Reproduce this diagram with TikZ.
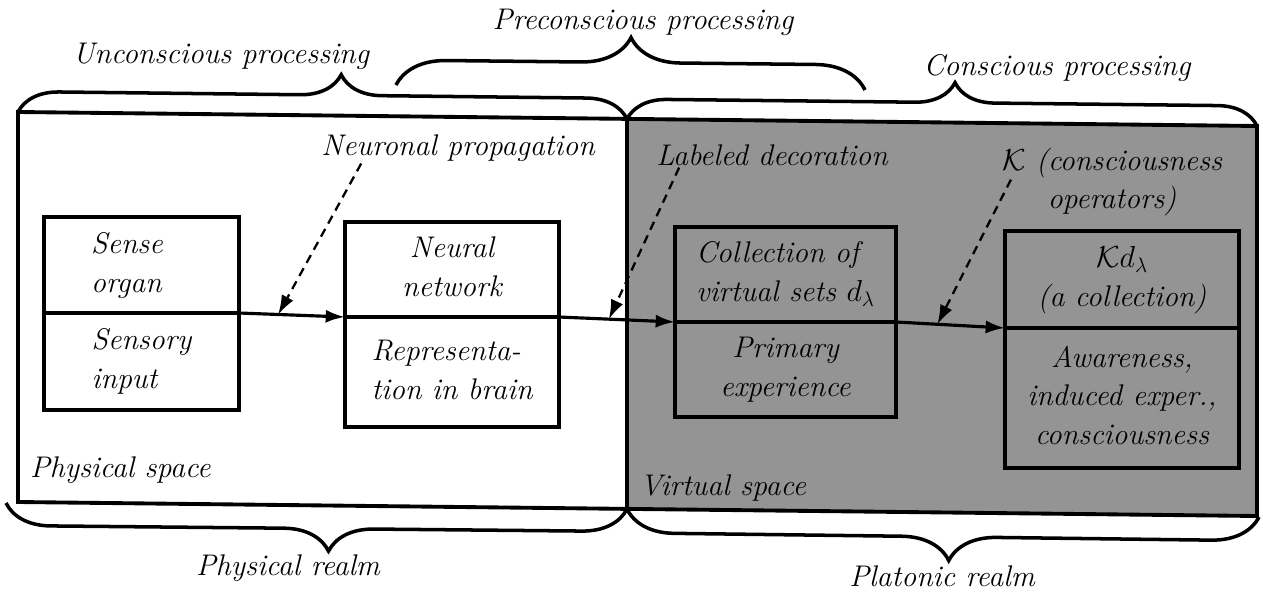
\documentclass[tikz,border=0pt]{standalone}
\usepackage{amsmath}
\usepackage{amssymb}
\usepackage{tikz}
\usetikzlibrary{arrows.meta,positioning,decorations.pathreplacing}

\begin{document}
\begin{tikzpicture}[
    x=0.02cm, y=-0.02cm,
    >={Latex[length=11pt,width=7.5pt]},
    font=\rmfamily\fontsize{17}{22}\selectfont\itshape,
    cell/.style={
		rectangle,
		draw=black,
		line width=2pt,
		inner sep=0pt,
		outer sep=0pt,
		text centered
	},
	note/.style={
		inner sep=1pt
	},
	flow/.style={->, line width=1.8pt},
	hint/.style={->, line width=1.3pt, dash pattern=on 5pt off 3.5pt},
	curly/.style 2 args={
		decorate,
		decoration={brace, amplitude=#1, aspect=#2},
		line width=2pt
	}
  ]
  \useasboundingbox (0,0) rectangle (1263,591);

    % the two spaces
  \coordinate (tl) at (18,112);
  \coordinate (tm) at (627,119);
  \coordinate (tr) at (1257,126);
  \coordinate (br) at (1257,516);
  \coordinate (bm) at (627,509);
  \coordinate (bl) at (18,502);
  \fill [black!42] (tm) -- (tr) -- (br) -- (bm) -- cycle;
  \draw [line width=2.2pt] (tl) -- (tr) -- (br) -- (bl) -- cycle;
  \draw [line width=2.2pt] (tm) -- (bm);

    % We start by placing the blocks
  \node [cell, anchor=south west, minimum width=3.9cm, minimum height=1.92cm] (sense) at (44,313)
 {%
 \begin{tabular}{l}
  Sense\\
  organ\hspace{0.6cm}
 \end{tabular}
 };
  \node [cell, below=0pt of sense, minimum width=3.9cm, minimum height=1.94cm] (input)
 {%
 \begin{tabular}{l}
  Sensory\\
  input\hspace{0.3cm}
 \end{tabular}
 };

  \node [cell, anchor=south west, minimum width=4.28cm, minimum height=1.9cm] (neural) at (345,317)
 {%
 \begin{tabular}{c}
  Neural\\
  network
 \end{tabular}
 };
  \node [cell, below=0pt of neural, minimum width=4.28cm, minimum height=2.2cm] (repr)
 {%
 \begin{tabular}{l}
  Representa-\\
  tion in brain
 \end{tabular}
 };

  \node [cell, anchor=south west, minimum width=4.42cm, minimum height=1.9cm] (coll) at (675,322)
 {%
 \begin{tabular}{l}
  Collection of\\
  virtual sets $d_\lambda$
 \end{tabular}
 };
  \node [cell, below=0pt of coll, minimum width=4.42cm, minimum height=1.9cm] (primary)
 {%
 \begin{tabular}{c}
  Primary\\
  experience
 \end{tabular}
 };

  \node [cell, anchor=south west, minimum width=4.68cm, minimum height=1.94cm] (kd) at (1005,328)
 {%
 \begin{tabular}{c}
  $\mathcal{K}d_\lambda$\\
  (a collection)
 \end{tabular}
 };
  \node [cell, below=0pt of kd, minimum width=4.68cm, minimum height=2.8cm] (aware)
 {%
 \begin{tabular}{c}
  Awareness,\\
  induced exper.,\\
  consciousness
 \end{tabular}
 };

    % labels
  \node [note] (neuprop) at (458,148) {Neuronal propagation};
  \node [note] (labdec) at (772,155) {Labeled decoration};
  \node [note, align=center] (kops) at (1112,182) {$\mathcal{K}$ (consciousness\\operators)};
  \node [note, anchor=west] (physp) at (28,470) {Physical space};
  \node [note, anchor=west] (virsp) at (638,488) {Virtual space};

    % the flow
 \draw [flow] (sense.south east) -- coordinate[pos=0.37] (hit1) (neural.south west);
 \draw [flow] (neural.south east) -- coordinate[pos=0.43] (hit2) (coll.south west);
 \draw [flow] (coll.south east) -- coordinate[pos=0.38] (hit3) (kd.south west);
 \draw [hint] ([xshift=0.84cm]neuprop.south west) -- (hit1);
 \draw [hint] ([xshift=0.5cm]labdec.south west) -- (hit2);
 \draw [hint] ([shift={(0.22cm,-0.68cm)}]kops.north west) -- (hit3);

    % braces and their texts
 \draw [curly={0.82cm}{0.53}] (tl) -- (tm);
 \draw [curly={1.0cm}{0.5}] (396,85) -- (865,90);
 \draw [curly={0.8cm}{0.52}] (tm) -- (tr);
 \draw [curly={0.9cm}{0.48}] (bm) -- (6,503);
 \draw [curly={0.95cm}{0.49}] (1259,517) -- (bm);

  \node [note] (uncon) at (221,56) {Unconscious processing};
  \node [note] (precon) at (643,22) {Preconscious processing};
  \node [note] (con) at (1057,68) {Conscious processing};
  \node [note] (physr) at (288,568) {Physical realm};
  \node [note] (platr) at (942,576) {Platonic realm};
\end{tikzpicture}
\end{document}
